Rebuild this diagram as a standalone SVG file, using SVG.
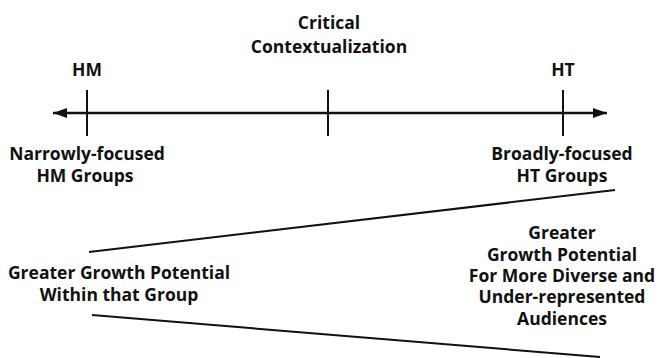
<svg xmlns="http://www.w3.org/2000/svg" width="658" height="358" viewBox="0 0 658 358">
<style>
text{font-family:"Open Sans","Liberation Sans",sans-serif;font-weight:700;font-size:17.5px;fill:#111;text-anchor:middle}
.ax{stroke:#111;stroke-width:2.4;fill:none}
.tk{stroke:#111;stroke-width:2;fill:none}
.ln{stroke:#111;stroke-width:2;fill:none}
</style>
<defs>
<marker id="ah" viewBox="0 0 14 10" refX="14" refY="5" markerWidth="14" markerHeight="10" markerUnits="userSpaceOnUse" orient="auto-start-reverse">
<path d="M0,0 L14,5 L0,10 Z" fill="#111"/>
</marker>
</defs>
<g id="connectors">
<line class="ax" x1="53" y1="113" x2="607" y2="113" marker-start="url(#ah)" marker-end="url(#ah)"/>
<line class="tk" x1="87" y1="90" x2="87" y2="136"/>
<line class="tk" x1="328" y1="90" x2="328" y2="136"/>
<line class="tk" x1="563" y1="90" x2="563" y2="136"/>
<line class="ln" x1="89" y1="252" x2="615" y2="190"/>
<line class="ln" x1="92" y1="315" x2="600" y2="357"/>
</g>
<g id="critical"><text x="329" y="29">Critical</text><text x="329" y="53">Contextualization</text></g>
<g id="hm"><text x="87" y="76">HM</text></g>
<g id="ht"><text x="563" y="76">HT</text></g>
<g id="narrow"><text x="87" y="160">Narrowly-focused</text><text x="85" y="182">HM Groups</text></g>
<g id="broad"><text x="562" y="160">Broadly-focused</text><text x="562" y="182">HT Groups</text></g>
<g id="within"><text x="119" y="279">Greater Growth Potential</text><text x="119" y="301">Within that Group</text></g>
<g id="diverse"><text x="562" y="239">Greater</text><text x="562" y="261">Growth Potential</text><text x="562" y="282">For More Diverse and</text><text x="562" y="303">Under-represented</text><text x="562" y="325">Audiences</text></g>
</svg>
